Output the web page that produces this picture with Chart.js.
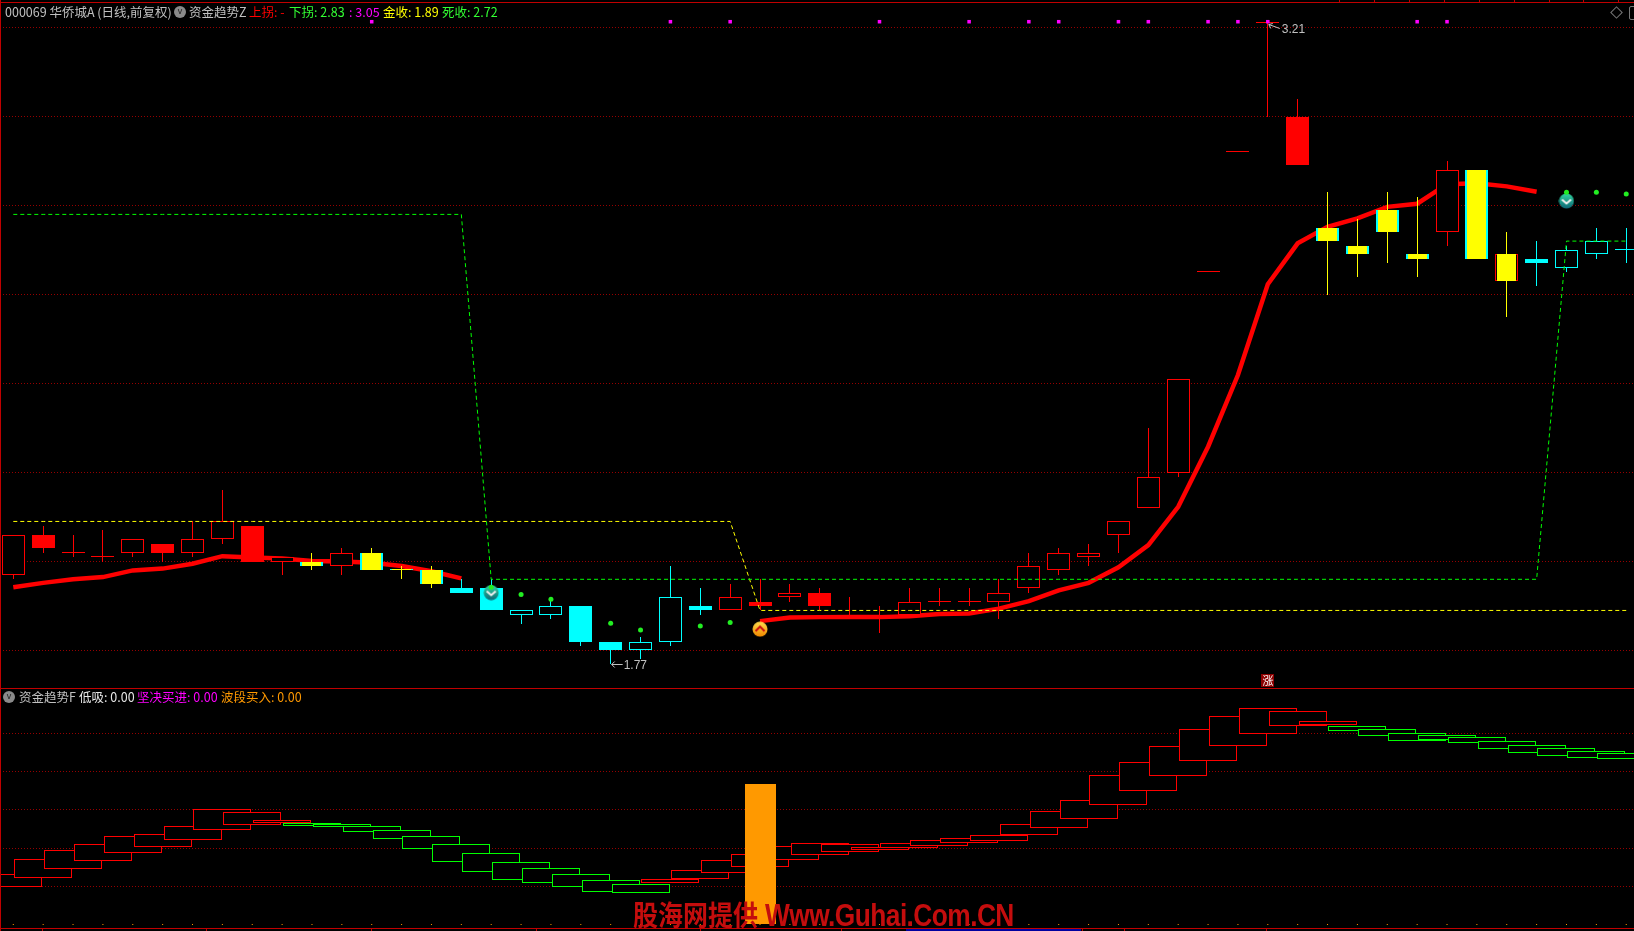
<!DOCTYPE html>
<html>
<head>
<meta charset="utf-8">
<title>000069 华侨城A</title>
<script src="https://cdn.jsdelivr.net/npm/chart.js@4/dist/chart.umd.min.js"></script>
<style>
    html, body { margin: 0; padding: 0; width: 1634px; height: 931px; background: #000; overflow: hidden; }
    canvas { position: absolute; left: 0; }
    #mainChart { top: 0; }
    #flowChart { top: 688px; }
    .txt { position: absolute; white-space: nowrap; font: 12.5px/16px "Noto Sans CJK SC", "Liberation Sans", sans-serif; color: #c0c0c0; }
    .row1 { top: 4px; }
    .row2 { top: 689px; }
    .line { position: absolute; background: #c00000; }
    .knob { position: absolute; width: 12px; height: 12px; border-radius: 50%; background: #8a8a8a; color: #222; font: 9px/11px "Liberation Sans", sans-serif; text-align: center; }
    #mark { position: absolute; left: 633px; top: 896px; white-space: nowrap; color: #c40d0d; font: bold 25px/30px "Liberation Sans Narrow", "Noto Sans CJK SC", sans-serif; transform: scaleY(1.15); transform-origin: left top; }
    #mark b { font-family: "Liberation Sans", sans-serif; font-size: 28px; margin-left: 7px; letter-spacing: -0.6px; display: inline-block; transform: scaleX(0.94); transform-origin: left center; }
</style>
</head>
<body>
<canvas id="mainChart" width="1634" height="688"></canvas>
<canvas id="flowChart" width="1634" height="240"></canvas>

<div class="line" style="left:0;top:2px;width:1634px;height:1px"></div>
<div class="line" style="left:0;top:688px;width:1634px;height:1px"></div>
<div class="line" style="left:0;top:928px;width:1634px;height:1px"></div>
<div class="line" style="left:0;top:0;width:1px;height:931px"></div>
<div class="line" style="left:906px;top:929px;width:175px;height:2px;background:#0000a0"></div>

<span class="txt row1" style="left:5px">000069 华侨城A (日线,前复权)</span>
<div class="knob" style="left:174px;top:6px">v</div>
<span class="txt row1" style="left:189px">资金趋势Z</span>
<span class="txt row1" style="left:249px;color:#ff0000">上拐: -</span>
<span class="txt row1" style="left:289px;color:#33ff33">下拐: 2.83</span>
<span class="txt row1" style="left:349px;color:#ff00ff">: 3.05</span>
<span class="txt row1" style="left:383px;color:#ffff00">金收: 1.89</span>
<span class="txt row1" style="left:442px;color:#33ff33">死收: 2.72</span>

<div class="knob" style="left:3px;top:691px">v</div>
<span class="txt row2" style="left:19px">资金趋势F</span>
<span class="txt row2" style="left:79px;color:#e8e8e8">低吸: 0.00</span>
<span class="txt row2" style="left:137px;color:#ff00ff">坚决买进: 0.00</span>
<span class="txt row2" style="left:221px;color:#ff9900">波段买入: 0.00</span>

<div style="position:absolute;left:1612px;top:8px;width:7px;height:7px;border:1px solid #777;transform:rotate(45deg)"></div>
<div style="position:absolute;left:1629px;top:6px;width:6px;height:12px;border:1px solid #777;border-radius:2px"></div>

<div id="mark">股海网提供<b>Www.Guhai.Com.CN</b></div>

<script>
// daily candles
const opens  = [1.97,2.06,2.02,2.01,2.02,2.04,2.02,2.05,2.08,2.00,2.00,1.99,2.02,1.98,1.98,1.94,1.94,1.88,1.88,1.90,1.82,1.80,1.82,1.90,1.89,1.91,1.92,1.93,1.875,1.875,1.88,1.91,1.91,1.91,1.94,1.98,2.01,2.06,2.12,2.20,2.65,2.92,3.21,3.00,2.75,2.71,2.79,2.69,2.74,2.88,2.63,2.68,2.66,2.69,2.70];
const closes = [2.06,2.03,2.02,2.01,2.05,2.02,2.05,2.09,2.00,2.01,1.99,2.02,1.98,1.98,1.95,1.93,1.89,1.89,1.90,1.82,1.80,1.82,1.92,1.89,1.92,1.90,1.93,1.90,1.875,1.875,1.91,1.91,1.91,1.93,1.99,2.02,2.02,2.09,2.19,2.41,2.65,2.92,3.21,2.89,2.72,2.69,2.74,2.68,2.88,2.68,2.69,2.67,2.70,2.72,2.70];
const highs  = [2.06,2.08,2.06,2.07,2.05,2.04,2.09,2.16,2.08,2.01,2.02,2.03,2.03,1.99,1.99,1.96,1.96,1.89,1.92,1.90,1.82,1.83,1.99,1.94,1.95,1.96,1.95,1.94,1.92,1.90,1.94,1.94,1.94,1.96,2.02,2.03,2.04,2.09,2.30,2.41,2.65,2.92,3.21,3.04,2.83,2.77,2.83,2.82,2.90,2.88,2.74,2.72,2.71,2.75,2.75];
const lows   = [1.96,2.02,2.01,2.00,2.01,2.00,2.01,2.04,2.00,1.97,1.98,1.97,1.98,1.96,1.94,1.93,1.89,1.86,1.87,1.81,1.77,1.78,1.81,1.88,1.89,1.89,1.91,1.89,1.875,1.84,1.88,1.90,1.90,1.87,1.93,1.97,1.99,2.02,2.12,2.19,2.65,2.92,3.00,2.89,2.60,2.64,2.67,2.64,2.71,2.68,2.55,2.62,2.65,2.68,2.67];

// which candles the indicator paints cyan or gold
const cyanDays = [10,12,13,14,15,16,17,18,19,20,21,22,23,44,45,46,47,49,51,52,53,54];
const goldDays = [10,12,13,14,44,45,46,47,49,50];

// thick trend line, nulls where it is switched off
const trendLine = [1.942,1.952,1.960,1.965,1.980,1.984,1.995,2.012,2.009,2.007,2.001,2.000,1.997,1.990,1.978,1.962,null,null,null,null,null,null,null,null,null,1.866,1.874,1.875,1.875,1.875,1.877,1.882,1.883,1.894,1.911,1.935,1.952,1.987,2.037,2.123,2.258,2.419,2.623,2.715,2.752,2.771,2.797,2.804,2.848,2.850,2.843,2.831,null,null,null];

// dashed stop lines, one step per regime
const deathLevels = [2.78,2.78,2.78,2.78,2.78,2.78,2.78,2.78,2.78,2.78,2.78,2.78,2.78,2.78,2.78,2.78,1.96,1.96,1.96,1.96,1.96,1.96,1.96,1.96,1.96,1.96,1.96,1.96,1.96,1.96,1.96,1.96,1.96,1.96,1.96,1.96,1.96,1.96,1.96,1.96,1.96,1.96,1.96,1.96,1.96,1.96,1.96,1.96,1.96,1.96,1.96,1.96,2.72,2.72,2.72];
const goldLevels  = [2.09,2.09,2.09,2.09,2.09,2.09,2.09,2.09,2.09,2.09,2.09,2.09,2.09,2.09,2.09,2.09,2.09,2.09,2.09,2.09,2.09,2.09,2.09,2.09,2.09,1.89,1.89,1.89,1.89,1.89,1.89,1.89,1.89,1.89,1.89,1.89,1.89,1.89,1.89,1.89,1.89,1.89,1.89,1.89,1.89,1.89,1.89,1.89,1.89,1.89,1.89,1.89,1.89,1.89,1.89];

// markers
const pinkDays = [12,22,24,29,32,34,35,37,38,40,41,42,47,48];
const pinkLevel = 3.213;
const greenDotDays = [16,17,18,20,21,23,24,52,53,54];
const greenDotValues = [1.942,1.926,1.915,1.861,1.846,1.855,1.863,2.83,2.83,2.826];
const sellIconDays = [16,52];
const sellIconValues = [1.93,2.81];
const buyIconDays = [25];
const buyIconValues = [1.848];
const limitUpDays = [42];

// lower panel boxes, open and close of the money flow line
const flowOpens  = [19.8,24.5,29.2,33.4,37.6,40.8,44.4,49.7,52.3,53.0,53.0,52.4,51.4,49.3,46.2,42.0,37.3,32.5,29.4,26.3,23.1,21.0,21.9,24.0,27.1,30.3,33.9,36.6,38.1,39.0,40.2,41.3,42.8,43.9,47.0,50.7,55.4,62.7,70.1,77.9,85.8,93.6,99.9,104.1,104.6,103.8,102.2,100.1,99.0,98.0,95.9,93.8,92.2,90.7,89.6];
const flowCloses = [26.3,34.1,38.8,42.0,46.2,47.2,51.4,60.3,58.7,54.5,51.7,51.0,48.6,44.9,39.7,32.9,27.7,23.5,21.9,19.8,17.2,16.7,23.6,28.4,33.6,36.7,40.9,42.5,42.0,40.8,42.5,44.1,45.1,46.7,52.4,59.3,65.0,78.1,84.9,93.3,102.2,109.0,113.2,111.6,106.4,101.5,98.9,96.2,96.8,95.2,92.1,90.0,88.4,87.3,86.8];
const waveBuy = [0,0,0,0,0,0,0,0,0,0,0,0,0,0,0,0,0,0,0,0,0,0,0,0,0,73.6,0,0,0,0,0,0,0,0,0,0,0,0,0,0,0,0,0,0,0,0,0,0,0,0,0,0,0,0,0];

// tick values of the dotted grids (labels are not shown in this view)
const priceTicks = [3.2,3.0,2.8,2.6,2.4,2.2,2.0,1.8];
const flowTicks = [100,80,60,40,20];

const RED = '#ff0000';
const CYAN = '#00ffff';
const GOLD = '#ffff00';
const GREEN = '#00ff00';
const GRID = '#960000';

const days = opens.map((v, i) => i);

// the little notches of the toolbar strips above and below the panels
[1339,1374,1409,1444,1479,1514,1549,1583,1618].forEach(x => addNotch(x, 0));
[42,206,371,536,700,841,1082,1124,1266].forEach(x => addNotch(x, 929));

function addNotch(x, y) {
    const d = document.createElement('div');
    d.className = 'line';
    d.style.cssText = 'left:' + x + 'px;top:' + y + 'px;width:1px;height:2px';
    document.body.appendChild(d);
}

// bars sit on whole pixels, otherwise the 1px borders go blurry
const crispBars = {
    id: 'crispBars',
    afterDatasetsUpdate(chart) {
        chart.getSortedVisibleDatasetMetas().forEach(meta => {
            if (meta.type !== 'bar') return;
            meta.data.forEach(el => {
                el.x = Math.round(el.x - el.width / 2) + el.width / 2;
                el.y = Math.round(el.y);
                el.base = Math.round(el.base);
            });
        });
    }
};

// small round signal icons
function makeIcon(topColor, bottomColor, chevron, up) {
    const c = document.createElement('canvas');
    c.width = 16;
    c.height = 16;
    const g = c.getContext('2d');
    const grad = g.createLinearGradient(0, 1, 0, 15);
    grad.addColorStop(0, topColor);
    grad.addColorStop(1, bottomColor);
    g.fillStyle = grad;
    g.beginPath();
    g.arc(8, 8, 7.5, 0, Math.PI * 2);
    g.fill();
    g.lineWidth = 2;
    g.strokeStyle = chevron;
    g.beginPath();
    if (up) {
        g.moveTo(3.5, 10); g.lineTo(8, 5.5); g.lineTo(12.5, 10);
    } else {
        g.moveTo(3.5, 6.5); g.lineTo(8, 10.5); g.lineTo(12.5, 6.5);
    }
    g.stroke();
    return c;
}

// high/low price notes and the limit-up badge
const notes = {
    id: 'notes',
    afterDatasetsDraw(chart) {
        const ctx = chart.ctx;
        const xs = chart.scales.x;
        const ys = chart.scales.y;
        const hi = highs.indexOf(Math.max(...highs));
        const lo = lows.indexOf(Math.min(...lows));
        ctx.save();
        ctx.font = '12px "Liberation Sans", sans-serif';
        ctx.textBaseline = 'middle';
        ctx.strokeStyle = '#c0c0c0';
        ctx.fillStyle = '#c0c0c0';
        ctx.lineWidth = 1;

        let x = xs.getPixelForValue(lo);
        let y = Math.round(ys.getPixelForValue(lows[lo])) + 0.5;
        ctx.beginPath();
        ctx.moveTo(x + 1, y); ctx.lineTo(x + 12, y);
        ctx.moveTo(x + 4, y - 3); ctx.lineTo(x + 1, y); ctx.lineTo(x + 4, y + 3);
        ctx.stroke();
        ctx.fillText(lows[lo].toFixed(2), x + 13, y + 1);

        x = xs.getPixelForValue(hi);
        y = Math.round(ys.getPixelForValue(highs[hi])) + 0.5;
        ctx.beginPath();
        ctx.moveTo(x + 1, y + 1); ctx.lineTo(x + 12, y + 5);
        ctx.moveTo(x + 5, y); ctx.lineTo(x + 1, y + 1); ctx.lineTo(x + 3, y + 5);
        ctx.stroke();
        ctx.fillText(highs[hi].toFixed(2), x + 14, y + 6);

        limitUpDays.forEach(d => {
            const bx = Math.round(xs.getPixelForValue(d));
            ctx.fillStyle = '#8c0000';
            ctx.fillRect(bx - 7, 674, 13, 13);
            ctx.fillStyle = '#ffffff';
            ctx.font = '11px "Noto Sans CJK SC", sans-serif';
            ctx.textAlign = 'center';
            ctx.fillText('涨', bx, 681);
        });
        ctx.restore();
    }
};

function isCyan(i) {
    return cyanDays.includes(i);
}

function candleColor(i) {
    return isCyan(i) ? CYAN : RED;
}

function xScale() {
    return { type: 'linear', min: -0.445, max: 54.26, offset: false, display: false };
}

function gridScale(min, max, ticks) {
    return {
        min: min,
        max: max,
        afterBuildTicks(scale) { scale.ticks = ticks.map(v => ({ value: v })); },
        ticks: { display: false },
        border: { display: false, dash: [1, 2] },
        grid: { color: GRID, lineWidth: 1, drawTicks: false }
    };
}

const commonOptions = {
    responsive: false,
    animation: false,
    devicePixelRatio: 1,
    layout: { padding: 0, autoPadding: false },
    plugins: { legend: { display: false }, tooltip: { enabled: false } }
};

new Chart(document.getElementById('mainChart'), {
    type: 'bar',
    plugins: [crispBars, notes],
    data: {
        datasets: [
            {
                label: '趋势',
                type: 'line',
                order: 7,
                data: days.map(i => ({ x: i, y: trendLine[i] })),
                borderColor: RED,
                borderWidth: 4.5,
                pointRadius: 0,
                tension: 0,
                spanGaps: false
            },
            {
                label: 'wick',
                order: 6,
                grouped: false,
                barThickness: 1,
                inflateAmount: 0,
                data: days.map(i => ({ x: i, y: [lows[i], highs[i]] })),
                backgroundColor: days.map(i => goldDays.includes(i) ? GOLD : candleColor(i))
            },
            {
                label: 'K线',
                order: 5,
                grouped: false,
                barThickness: 23,
                minBarLength: 1,
                inflateAmount: 0,
                borderSkipped: false,
                borderWidth: 1,
                data: days.map(i => ({ x: i, y: [opens[i], closes[i]] })),
                borderColor: days.map(i => candleColor(i)),
                backgroundColor: days.map(i => closes[i] < opens[i] ? candleColor(i) : '#000000')
            },
            {
                label: '金色',
                order: 4,
                grouped: false,
                barThickness: 19,
                minBarLength: 1,
                inflateAmount: 0,
                data: goldDays.map(i => ({ x: i, y: [opens[i], closes[i]] })),
                backgroundColor: GOLD
            },
            {
                label: '死收',
                type: 'line',
                order: 3,
                data: days.map(i => ({ x: i, y: deathLevels[i] })),
                borderColor: GREEN,
                borderWidth: 1,
                borderDash: [4, 3],
                pointRadius: 0,
                tension: 0
            },
            {
                label: '金收',
                type: 'line',
                order: 3,
                data: days.map(i => ({ x: i, y: goldLevels[i] })),
                borderColor: GOLD,
                borderWidth: 1,
                borderDash: [4, 3],
                pointRadius: 0,
                tension: 0
            },
            {
                label: 'sell',
                type: 'line',
                order: 2,
                showLine: false,
                data: sellIconDays.map((d, i) => ({ x: d, y: sellIconValues[i] })),
                pointStyle: makeIcon('#2fd39e', '#0f6a78', '#f0f0f0', false),
                pointRadius: 7
            },
            {
                label: 'buy',
                type: 'line',
                order: 2,
                showLine: false,
                data: buyIconDays.map((d, i) => ({ x: d, y: buyIconValues[i] })),
                pointStyle: makeIcon('#ffd94a', '#f08a00', '#c81010', true),
                pointRadius: 7
            },
            {
                label: 'green dots',
                type: 'line',
                order: 1,
                showLine: false,
                data: greenDotDays.map((d, i) => ({ x: d, y: greenDotValues[i] })),
                pointRadius: 2.5,
                pointBorderWidth: 0,
                pointBackgroundColor: '#22ee22'
            },
            {
                label: 'pink dots',
                type: 'line',
                order: 1,
                showLine: false,
                data: pinkDays.map(d => ({ x: d, y: pinkLevel })),
                pointStyle: 'rect',
                pointRadius: 2.5,
                pointBorderWidth: 0,
                pointBackgroundColor: '#ff00ff'
            }
        ]
    },
    options: Object.assign({}, commonOptions, {
        scales: { x: xScale(), y: gridScale(1.71573, 3.2618, priceTicks) }
    })
});

new Chart(document.getElementById('flowChart'), {
    type: 'bar',
    plugins: [crispBars],
    data: {
        datasets: [
            {
                label: '资金',
                order: 3,
                grouped: false,
                barThickness: 58,
                inflateAmount: 0,
                borderSkipped: false,
                borderWidth: 1,
                data: days.map(i => ({ x: i, y: [flowOpens[i], flowCloses[i]] })),
                borderColor: days.map(i => flowCloses[i] >= flowOpens[i] ? RED : GREEN),
                backgroundColor: '#000000'
            },
            {
                label: '波段买入',
                order: 2,
                grouped: false,
                barThickness: 31,
                inflateAmount: 0,
                data: days.map(i => ({ x: i, y: waveBuy[i] })),
                backgroundColor: '#ff9900'
            },
            {
                label: 'zero dots',
                type: 'line',
                order: 1,
                showLine: false,
                data: days.map(i => ({ x: i, y: 0 })),
                pointStyle: 'rect',
                pointRadius: 0.7,
                pointBorderWidth: 0,
                pointBackgroundColor: '#ff9900'
            }
        ]
    },
    options: Object.assign({}, commonOptions, {
        scales: { x: xScale(), y: gridScale(-1.833, 123.82, flowTicks) }
    })
});
</script>
</body>
</html>
